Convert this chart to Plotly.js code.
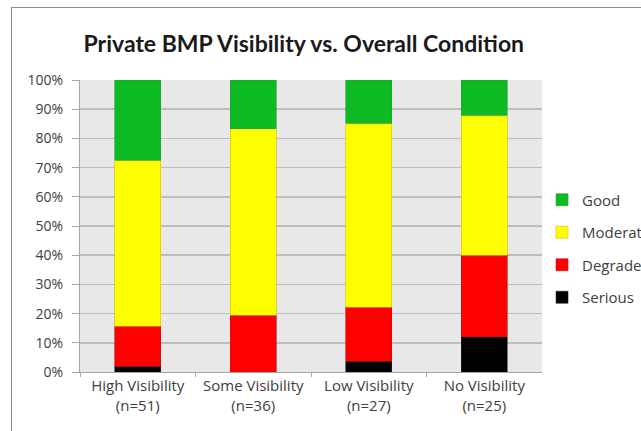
<!DOCTYPE html>
<html><head><meta charset="utf-8">
<script src="https://cdn.plot.ly/plotly-3.0.1.min.js"></script>
<style>
html,body{margin:0;padding:0;width:641px;height:431px;overflow:hidden;background:#fff;}
#frame{position:absolute;left:11px;top:7px;width:700px;height:500px;border:1.5px solid #8c8c8c;box-sizing:border-box;pointer-events:none;z-index:5;}
#chart{position:absolute;left:0;top:0;width:641px;height:431px;}
</style></head>
<body>
<div id="chart"></div>
<div id="frame"></div>
<script>
const categories = ["High Visibility<br>(n=51)", "Some Visibility<br>(n=36)", "Low Visibility<br>(n=27)", "No Visibility<br>(n=25)"];
const serious  = [2.0, 0.0, 3.7, 12.0];
const degraded = [13.7, 19.4, 18.5, 28.0];
const moderate = [56.9, 63.9, 63.0, 48.0];
const good     = [27.4, 16.7, 14.8, 12.0];
const seriesNames = ["Serious", "Degraded", "Moderate", "Good"];
const seriesColors = ["#000000", "#ff0000", "#ffff00", "#0cba22"];
const seriesEdge = ["#2a2a3a", "#c01010", "#d8b800", "#2a9a40"];
const yTicks = [0,10,20,30,40,50,60,70,80,90,100];
const yTickText = yTicks.map(v => v + "%");

const seriesData = [serious, degraded, moderate, good];
const traces = seriesData.map((vals, i) => ({
  type: "bar",
  name: seriesNames[i],
  legendgroup: seriesNames[i],
  legendrank: 1000 - i,
  x: categories,
  y: vals,
  marker: {color: seriesColors[i], line: {color: seriesEdge[i], width: 0.6}},
  width: 0.4,
  hoverinfo: "x+y+name"
}));

const font = "'Open Sans', Lato, 'DejaVu Sans', sans-serif";
const layout = {
  width: 641, height: 431,
  paper_bgcolor: "#ffffff",
  plot_bgcolor: "#e8e8e8",
  barmode: "stack",
  margin: {l: 80, r: 94, t: 80, b: 59},
  title: {text: "<b>Private BMP Visibility vs. Overall Condition</b>", font: {family: "Lato, 'Open Sans', sans-serif", size: 23, color: "#1a1a1a"}, x: 0.474, xanchor: "center", y: 0.897, yanchor: "middle"},
  xaxis: {
    type: "category",
    showgrid: false,
    showline: true, linecolor: "#a6a6a6", linewidth: 1,
    ticks: "outside", tickson: "boundaries", ticklen: 4, tickcolor: "#a6a6a6",
    tickfont: {family: font, size: 15, color: "#404040"},
    fixedrange: true
  },
  yaxis: {
    range: [0, 100],
    tickvals: yTicks, ticktext: yTickText,
    showgrid: true, gridcolor: "#bdbdbd", gridwidth: 1.5,
    showline: true, linecolor: "#a6a6a6", linewidth: 1,
    ticks: "outside", ticklen: 7, tickcolor: "#a6a6a6",
    ticklabelstandoff: 6,
    tickfont: {family: font, size: 14, color: "#404040"},
    zeroline: false,
    fixedrange: true
  },
  legend: {
    traceorder: "grouped",
    tracegroupgap: 10,
    xref: "container", yref: "container",
    x: 0.8456, xanchor: "left",
    y: 0.4234, yanchor: "middle",
    font: {family: font, size: 15, color: "#404040"},
    itemwidth: 30,
    bgcolor: "rgba(0,0,0,0)"
  },
  showlegend: true
};
Plotly.newPlot("chart", traces, layout, {displayModeBar: false, staticPlot: true});
</script>
</body></html>
